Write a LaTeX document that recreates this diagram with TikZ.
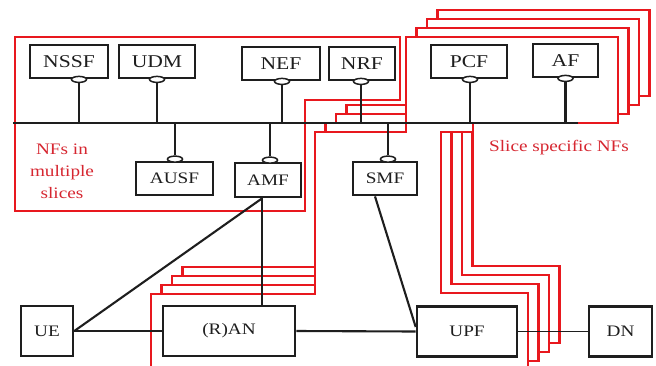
\documentclass[tikz,border=0pt]{standalone}
\usepackage{fontspec}
\setmainfont{Liberation Serif}
\newfontfamily\nffont[FakeStretch=1.2]{Liberation Serif}
\usepackage{tikz}
\usetikzlibrary{positioning, calc, shapes.geometric}

\definecolor{slicered}{RGB}{232,24,30}
\definecolor{labelred}{RGB}{214,38,48}
\definecolor{nfink}{RGB}{30,30,30}

\begin{document}
\begin{tikzpicture}[
  x=1pt, y=-1pt,
  font=\nffont\fontsize{18}{21}\selectfont,
  nfbox/.style={rectangle, draw=nfink, line width=2.8pt, fill=white,
                inner sep=0pt, minimum height=33pt, text=nfink},
  nfsmall/.style={nfbox, font=\nffont\fontsize{16}{19}\selectfont},
  anbox/.style={nfsmall, line width=2.6pt, minimum height=50pt},
  port/.style={ellipse, draw=nfink, line width=1.5pt, fill=white,
               minimum width=15pt, minimum height=6pt, inner sep=0pt},
  link/.style={draw=nfink, line width=2.1pt},
  thinlink/.style={draw=nfink, line width=1.1pt},
  bus/.style={draw=nfink, line width=2.6pt},
  slice/.style={draw=slicered, line width=2.1pt, line join=miter},
  slicelabel/.style={text=labelred, align=center,
                     font=\nffont\fontsize{16}{22}\selectfont}
]
\useasboundingbox (0,0) rectangle (656,365);
\clip (0,0) rectangle (656,365);

% --- Slice specific outlines, back to front ---
\foreach \k [evaluate=\k as \dx using 10.5*\k, evaluate=\k as \dy using 9*\k] in {3,2,1,0} {
  \filldraw[slice, fill=white] (151+\dx,370-\dy) -- (151+\dx,294-\dy) -- (315+\dx,294-\dy)
    -- (315+\dx,132-\dy) -- (406+\dx,132-\dy) -- (406+\dx,37-\dy)
    -- (618+\dx,37-\dy) -- (618+\dx,123-\dy) -- (473+\dx,123-\dy)
    -- (473+\dx,132-\dy) -- (441+\dx,132-\dy) -- (441+\dx,293-\dy)
    -- (528+\dx,293-\dy) -- (528+\dx,370-\dy) -- cycle;
}

% --- NFs shared by multiple slices ---
\draw[slice] (15,37) -- (400,37) -- (400,100) -- (305,100) -- (305,211)
  -- (15,211) -- cycle;

% --- Service based NFs above the bus ---
\node[nfbox, minimum width=78pt] (nssf) at (69,61.5) {NSSF};
\node[nfbox, minimum width=76pt] (udm) at (157,61.5) {UDM};
\node[nfbox, minimum width=78pt] (nef) at (281,63.5) {NEF};
\node[nfbox, minimum width=66pt] (nrf) at (362,63.5) {NRF};
\node[nfbox, minimum width=76pt] (pcf) at (469,61.5) {PCF};
\node[nfbox, minimum width=65pt] (af) at (565.5,60.5) {AF};

% --- NFs below the bus ---
\node[nfsmall, minimum width=77pt] (ausf) at (174.5,178.5) {AUSF};
\node[nfsmall, minimum width=66pt, minimum height=34pt] (amf) at (268,180) {AMF};
\node[nfsmall, minimum width=64pt] (smf) at (385,178.5) {SMF};

% --- Access and user plane ---
\node[anbox, minimum width=52pt] (ue) at (47,331) {UE};
\node[anbox, minimum width=132pt] (ran) at (229,331) {(R)AN};
\node[anbox, minimum width=100pt] (upf) at (467,331.5) {UPF};
\node[anbox, minimum width=63pt] (dn) at (620.5,331.5) {DN};

% --- Service interface ports ---
\node[port] (nssfport) at ($(nssf.south)+(10,0)$) {};
\node[port] (udmport) at (udm.south) {};
\node[port] (nefport) at ($(nef.south)+(1,0)$) {};
\node[port] (nrfport) at ($(nrf.south)+(-1,0)$) {};
\node[port] (pcfport) at ($(pcf.south)+(1,0)$) {};
\node[port] (afport) at (af.south) {};
\node[port] (ausfport) at ($(ausf.north)+(0.5,-1.5)$) {};
\node[port] (amfport) at ($(amf.north)+(2,-1.5)$) {};
\node[port] (smfport) at ($(smf.north)+(3,-1.5)$) {};

% --- Bus and stubs ---
\coordinate (busW) at (13,123);
\coordinate (busE) at (578,123);
\foreach \p in {nssfport,udmport,nefport,nrfport,pcfport,afport}
  \draw[link] (\p.south) -- (\p.south |- busW);
\foreach \p in {ausfport,amfport,smfport}
  \draw[link] (\p.north) -- (\p.north |- busW);
\draw[bus] (busW) -- (busE);

% --- Reference points ---
\coordinate (amfout) at ($(amf.south)+(-6,0)$);
\draw[link] (ue.east) -- (amfout);
\draw[link] (amfout) -- (amfout |- ran.north);
\draw[link] (ue.east) -- (ran.west);
\draw[link] (ran.east) -- (upf.west);
\draw[link] ($(smf.south)+(-10,0)$) -- ($(upf.west)+(0,-4.5)$);
\draw[thinlink] (upf.east) -- (dn.west);

% --- Labels ---
\node[slicelabel] (multilabel) at (62,171) {NFs in\\multiple\\slices};
\node[slicelabel] (speclabel) at (559,148) {Slice specific NFs};

\end{tikzpicture}
\end{document}
